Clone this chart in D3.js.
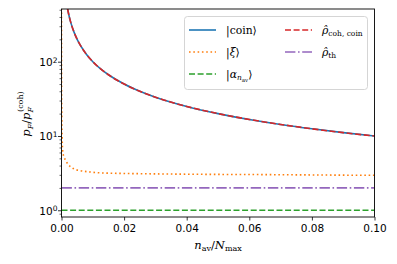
<!DOCTYPE html>
<html><head><meta charset="utf-8">
<script src="https://cdn.jsdelivr.net/npm/d3@7"></script>
<style>
html,body{margin:0;padding:0;background:#fff;}
svg{display:block;}
</style></head>
<body>
<svg id="c" width="397" height="264"></svg>
<script>
// ---- data ----
const coinX = [0.0015, 0.0018, 0.002, 0.0025, 0.003, 0.004, 0.005, 0.006, 0.008, 0.01, 0.0125, 0.015, 0.02, 0.025, 0.03, 0.04, 0.05, 0.06, 0.07, 0.08, 0.09, 0.1];
const coinY = [667, 556, 500, 400, 333, 250, 200, 167, 125, 100, 80, 66.7, 50, 40, 33.3, 25, 20, 16.7, 14.3, 12.5, 11.1, 10];
const xiX = [0, 0.00003, 0.00006, 0.0001, 0.0002, 0.0004, 0.0008, 0.0013, 0.002, 0.0029, 0.004, 0.006, 0.009, 0.0118, 0.015, 0.02, 0.03, 0.04, 0.05, 0.06, 0.07, 0.08, 0.09, 0.1];
const xiY = [2000, 60, 30, 18, 9.5, 6.2, 5.2, 4.75, 4.2, 3.86, 3.6, 3.42, 3.28, 3.2, 3.16, 3.13, 3.09, 3.06, 3.04, 3.03, 3.01, 2.99, 2.97, 2.96];
const alphaY = 1;
const thY = 2;
const xTicks = [0, 0.02, 0.04, 0.06, 0.08, 0.1];
const yTicks = [1, 10, 100];
const yTickExp = ["0", "1", "2"];
const colors = {coin: "#1f77b4", xi: "#ff7f0e", alpha: "#2ca02c", coh: "#d62728", th: "#9467bd"};

// ---- layout ----
const L = 61.5, R = 374.5, T = 9, B = 217;
const svg = d3.select("#c");
const x = d3.scaleLinear().domain([0, 0.1]).range([L, R]);
const y = d3.scaleLog().domain([0.812, 512]).range([B, T]);

svg.append("defs").append("clipPath").attr("id", "clip")
  .append("rect").attr("x", L).attr("y", T).attr("width", R - L).attr("height", B - T);

const g = svg.append("g").attr("clip-path", "url(#clip)");
const line = d3.line().x(d => x(d[0])).y(d => y(d[1])).curve(d3.curveMonotoneX);
const lw = 1.6;
const dashed = "6,2.6", dotted = "1.6,2.7", dashdot = "10.4,2.6,1.6,2.6";

g.append("path").datum([[0, alphaY], [0.1, alphaY]]).attr("d", line)
  .attr("fill", "none").attr("stroke", colors.alpha).attr("stroke-width", lw).attr("stroke-dasharray", dashed);
g.append("path").datum([[0, thY], [0.1, thY]]).attr("d", line)
  .attr("fill", "none").attr("stroke", colors.th).attr("stroke-width", lw).attr("stroke-dasharray", dashdot);
g.append("path").datum(xiX.map((v, i) => [v, xiY[i]])).attr("d", line)
  .attr("fill", "none").attr("stroke", colors.xi).attr("stroke-width", lw).attr("stroke-dasharray", dotted);
g.append("path").datum(coinX.map((v, i) => [v, coinY[i]])).attr("d", line)
  .attr("fill", "none").attr("stroke", colors.coin).attr("stroke-width", lw);
g.append("path").datum(coinX.map((v, i) => [v, coinY[i]])).attr("d", line)
  .attr("fill", "none").attr("stroke", colors.coh).attr("stroke-width", lw).attr("stroke-dasharray", dashed);

// ---- axes ----
const tickFont = "DejaVu Sans, sans-serif";
const fs = 10.5;
const xAxis = svg.append("g").attr("transform", `translate(0,${B})`)
  .call(d3.axisBottom(x).tickValues(xTicks).tickFormat(d3.format(".2f")).tickSizeOuter(0).tickSize(3.5));
xAxis.select(".domain").remove();
xAxis.selectAll("line").attr("stroke", "#000").attr("stroke-width", 0.8);
xAxis.selectAll("text").attr("font-family", tickFont).attr("font-size", fs).attr("fill", "#000").attr("dy", "0.76em").attr("y", 7);

const minor = [];
[0.1, 1, 10, 100].forEach(d => { for (let k = 2; k <= 9; k++) minor.push(d * k); });
const yDom = y.domain();
const yMinor = minor.filter(v => v >= yDom[0] && v <= yDom[1]);
const yAxMinor = svg.append("g").attr("transform", `translate(${L},0)`)
  .call(d3.axisLeft(y).tickValues(yMinor).tickFormat("").tickSize(2).tickSizeOuter(0));
yAxMinor.select(".domain").remove();
yAxMinor.selectAll("line").attr("stroke", "#000").attr("stroke-width", 0.6);

const yAx = svg.append("g").attr("transform", `translate(${L},0)`)
  .call(d3.axisLeft(y).tickValues(yTicks).tickFormat("").tickSize(3.5).tickSizeOuter(0));
yAx.select(".domain").remove();
yAx.selectAll("line").attr("stroke", "#000").attr("stroke-width", 0.8);
yAx.selectAll(".tick").each(function(d, i) {
  const t = d3.select(this).append("text").attr("x", -4).attr("dy", "0.36em")
    .attr("text-anchor", "end").attr("font-family", tickFont).attr("font-size", fs).attr("fill", "#000");
  t.append("tspan").text("10");
  t.append("tspan").attr("dy", "-0.45em").attr("font-size", fs * 0.72).text(yTickExp[i]);
});

svg.append("rect").attr("x", L).attr("y", T).attr("width", R - L).attr("height", B - T)
  .attr("fill", "none").attr("stroke", "#000").attr("stroke-width", 0.9);

// axis labels
const mathFont = "DejaVu Serif, serif";
const lfs = 11.5, sfs = 8;
const xl = svg.append("text").attr("x", 218).attr("y", 248.5).attr("text-anchor", "middle")
  .attr("font-family", mathFont).attr("font-size", lfs).attr("fill", "#000");
xl.append("tspan").attr("font-style", "italic").text("n");
xl.append("tspan").attr("font-size", sfs).attr("dy", 2.5).text("av");
xl.append("tspan").attr("dy", -2.5).text("/");
xl.append("tspan").attr("font-style", "italic").text("N");
xl.append("tspan").attr("font-size", sfs).attr("dy", 2.5).text("max");

const yl = svg.append("text").attr("transform", `translate(30,114) rotate(-90)`).attr("text-anchor", "middle")
  .attr("font-family", mathFont).attr("font-size", lfs).attr("fill", "#000");
yl.append("tspan").attr("font-style", "italic").text("p");
yl.append("tspan").attr("font-size", sfs).attr("font-style", "italic").attr("dy", 2.5).text("F");
yl.append("tspan").attr("dy", -2.5).text("/");
yl.append("tspan").attr("font-style", "italic").text("p");
yl.append("tspan").attr("font-size", sfs).attr("font-style", "italic").attr("dy", 2.5).text("F");
yl.append("tspan").attr("font-size", sfs).attr("dx", -5).attr("dy", -10).text("(coh)");

// ---- legend ----
const leg = svg.append("g");
leg.append("rect").attr("x", 184.5).attr("y", 16.5).attr("width", 183).attr("height", 73).attr("rx", 3)
  .attr("fill", "#fff").attr("fill-opacity", 0.8).attr("stroke", "#d0d0d0").attr("stroke-width", 0.9);
const items = [
  {c: colors.coin, dash: null, x: 189, y: 30, lab: "coin"},
  {c: colors.xi, dash: dotted, x: 189, y: 52, lab: "xi"},
  {c: colors.alpha, dash: dashed, x: 189, y: 74, lab: "alpha"},
  {c: colors.coh, dash: dashed, x: 285, y: 30, lab: "coh"},
  {c: colors.th, dash: dashdot, x: 285, y: 52, lab: "th"}
];
const legFs = 10.8;
items.forEach(it => {
  const l = leg.append("line").attr("x1", it.x).attr("x2", it.x + 27).attr("y1", it.y).attr("y2", it.y)
    .attr("stroke", it.c).attr("stroke-width", lw);
  if (it.dash) l.attr("stroke-dasharray", it.dash);
  const t = leg.append("text").attr("x", it.x + 37).attr("y", it.y).attr("dy", "0.35em")
    .attr("font-family", mathFont).attr("font-size", legFs).attr("fill", "#000");
  if (it.lab === "coin") { t.append("tspan").text("|coin⟩"); }
  else if (it.lab === "xi") { t.append("tspan").text("|"); t.append("tspan").attr("font-style", "italic").text("ξ"); t.append("tspan").text("⟩"); }
  else if (it.lab === "alpha") {
    t.append("tspan").text("|"); t.append("tspan").attr("font-style", "italic").text("α");
    t.append("tspan").attr("font-size", 7.5).attr("font-style", "italic").attr("dy", 2.5).text("n");
    t.append("tspan").attr("font-size", 5.5).attr("dy", 1.5).text("av");
    t.append("tspan").attr("dy", -4).text("⟩");
  } else if (it.lab === "coh") {
    t.append("tspan").attr("font-style", "italic").text("ρ̂");
    t.append("tspan").attr("font-size", 7.5).attr("dy", 2.5).text("coh, coin");
  } else {
    t.append("tspan").attr("font-style", "italic").text("ρ̂");
    t.append("tspan").attr("font-size", 7.5).attr("dy", 2.5).text("th");
  }
});
</script>
</body></html>
